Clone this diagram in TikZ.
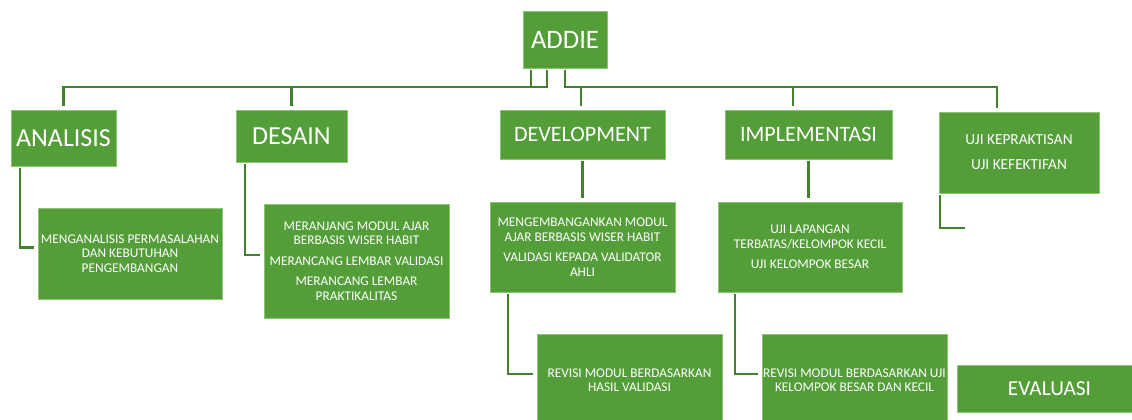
\documentclass[tikz,border=0pt]{standalone}
\usepackage{fontspec}
\setmainfont{Carlito}
\usetikzlibrary{calc}

\definecolor{boxgreen}{RGB}{84,158,57}
\definecolor{boxrim}{RGB}{140,196,116}
\definecolor{linkgreen}{RGB}{66,130,44}
\newlength{\pxu}
\setlength{\pxu}{0.75pt}

\tikzset{
  phase/.style={draw=boxrim, line width=0.4pt, fill=boxgreen, text=white,
                inner sep=0pt, align=center},
  task/.style={phase, minimum width=185\pxu,
               font=\fontsize{10}{10.9}\selectfont},
  link/.style={draw=linkgreen, line width=1.8pt,
               shorten <=1.5pt, shorten >=2.5pt}
}

\begin{document}
\begin{tikzpicture}[x=0.75pt, y=-0.75pt]
\clip (0,0) rectangle (1132,419);

% top level
\node[phase, minimum width=84\pxu, minimum height=57\pxu,
      font=\fontsize{20}{24}\selectfont] (addie) at (565,39.5) {ADDIE};

% phases
\node[phase, minimum width=105\pxu, minimum height=56\pxu,
      font=\fontsize{19.5}{23}\selectfont] (ana) at (63.5,138) {ANALISIS};
\node[phase, minimum width=111\pxu, minimum height=52\pxu,
      font=\fontsize{19.5}{23}\selectfont] (des) at (291.5,136) {DESAIN};
\node[phase, minimum width=165\pxu, minimum height=49\pxu,
      font=\fontsize{16.5}{20}\selectfont] (dev) at (582.5,134.5) {DEVELOPMENT};
\node[phase, minimum width=167\pxu, minimum height=49\pxu,
      font=\fontsize{16.5}{20}\selectfont] (imp) at (808.5,134.5) {IMPLEMENTASI};
\node[phase, minimum width=160\pxu, minimum height=81\pxu,
      font=\fontsize{11.5}{13}\selectfont] (uji) at (1019,152.5)
      {UJI KEPRAKTISAN\\[5.75pt]UJI KEFEKTIFAN};

% tasks
\node[task, minimum width=184\pxu, minimum height=91\pxu] (ana1) at (130,253.5)
      {MENGANALISIS PERMASALAHAN\\DAN KEBUTUHAN\\PENGEMBANGAN};
\node[task, minimum height=114\pxu] (des1) at (356.5,261)
      {MERANJANG MODUL AJAR\\BERBASIS WISER HABIT\\[4.5pt]MERANCANG LEMBAR VALIDASI\\[4.5pt]MERANCANG LEMBAR\\PRAKTIKALITAS};
\node[task, minimum height=90\pxu] (dev1) at (582.5,247)
      {MENGEMBANGANKAN MODUL\\AJAR BERBASIS WISER HABIT\\[4.5pt]VALIDASI KEPADA VALIDATOR\\AHLI};
\node[task, minimum width=184\pxu, minimum height=90\pxu] (imp1) at (810,247)
      {UJI LAPANGAN\\TERBATAS/KELOMPOK KECIL\\[4.5pt]UJI KELOMPOK BESAR};
\node[task, minimum height=92\pxu] (dev2) at (629.5,380)
      {REVISI MODUL BERDASARKAN\\HASIL VALIDASI};
\node[task, minimum height=92\pxu] (imp2) at (854.5,380)
      {REVISI MODUL BERDASARKAN UJI\\KELOMPOK BESAR DAN KECIL};
\node[phase, minimum width=185\pxu, minimum height=47\pxu,
      font=\fontsize{16}{19}\selectfont] (eva) at (1049.5,388.5) {EVALUASI};

% connectors from ADDIE
\draw[link] ($(addie.south)+(-34,0)$) -- ++(0,19) -| (ana.north);
\draw[link] ($(addie.south)+(-18,0)$) -- ++(0,19) -| (des.north);
\draw[link] (addie.south) -- ++(0,19) -| ($(dev.north)+(-1.5,0)$);
\draw[link] (addie.south) -- ++(0,19) -| ($(imp.north)+(-15.5,0)$);
\draw[link] (addie.south) -- ++(0,19) -| ($(uji.north)+(-22,0)$);

% connectors to tasks
\draw[link] ($(ana.south west)+(9,0)$) |- ($(ana1.west)+(0,-6)$);
\draw[link] ($(des.south west)+(9,0)$) |- ($(des1.west)+(0,-6)$);
\draw[link] (dev.south) -- (dev1.north);
\draw[link] (imp.south) -- (imp.south |- imp1.north);
\draw[link] ($(dev1.south west)+(18,0)$) |- ($(dev2.west)+(0,-6)$);
\draw[link] ($(imp1.south west)+(17,0)$) |- ($(imp2.west)+(0,-6)$);
\coordinate (ujiend) at (965,228);
\draw[link, shorten >=0pt] ($(uji.south west)+(1,0)$) |- (ujiend);
\end{tikzpicture}
\end{document}
